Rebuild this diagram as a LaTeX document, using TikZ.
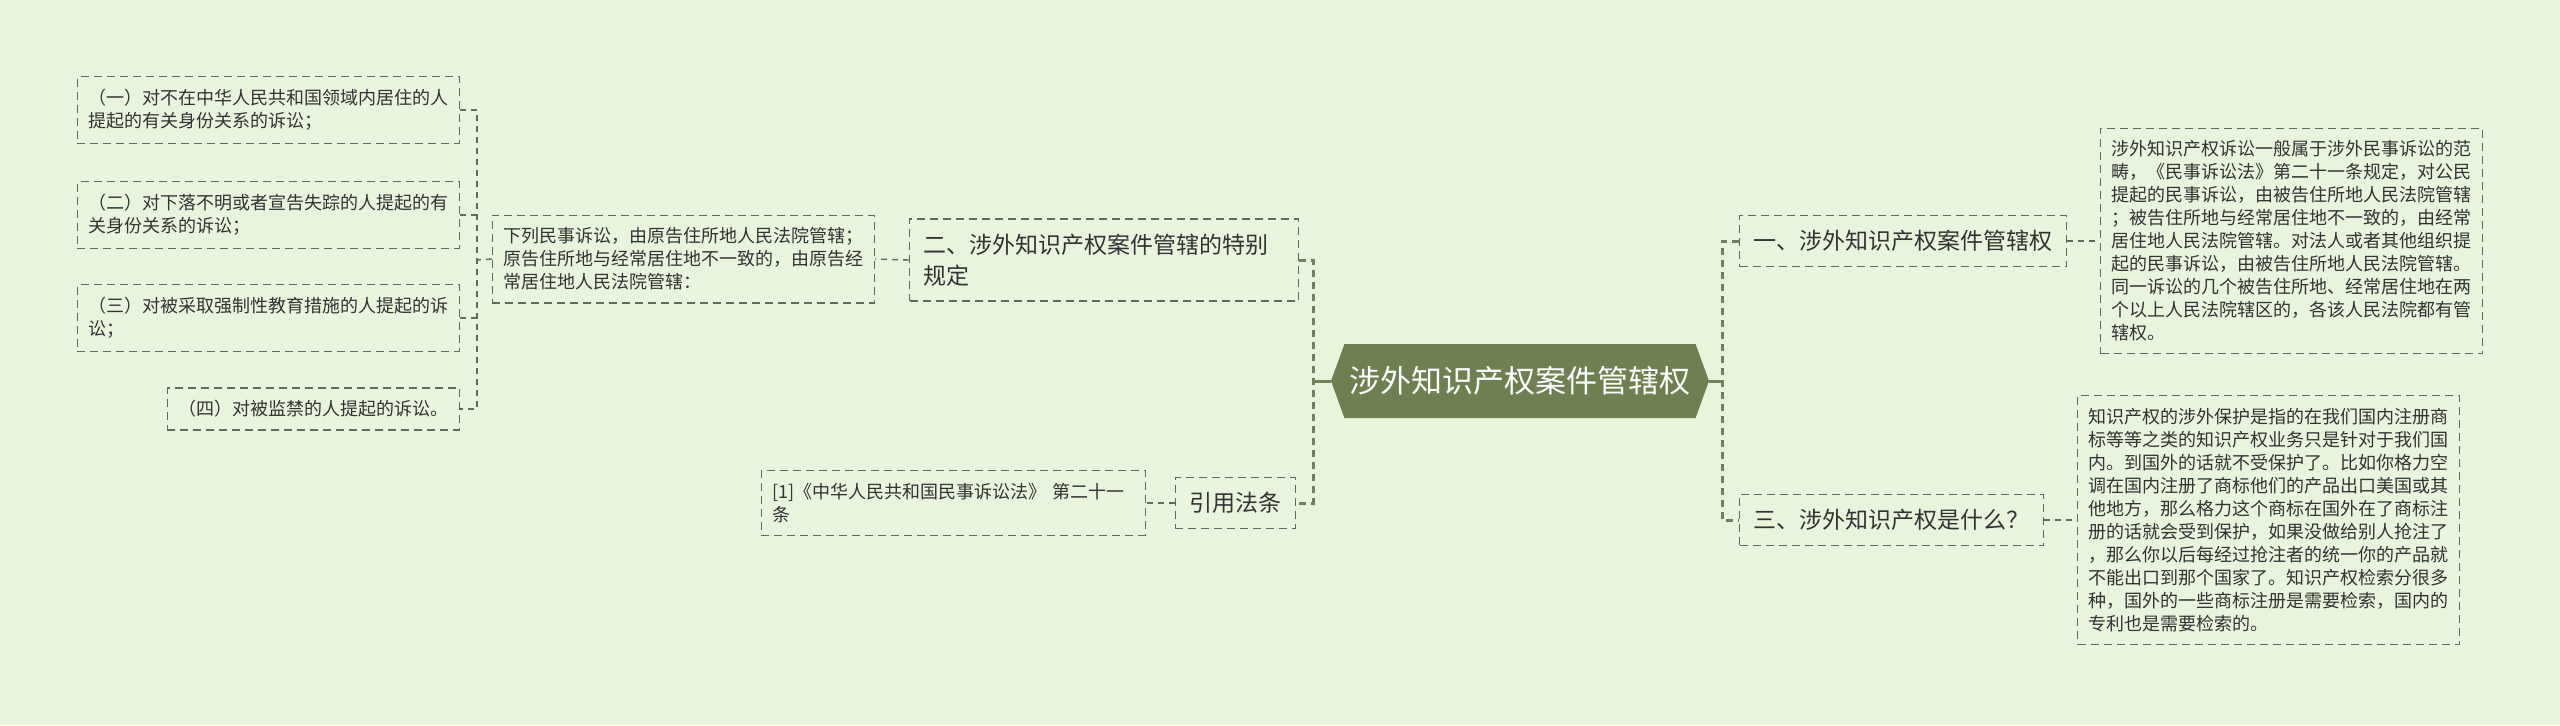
\documentclass[tikz,border=0pt]{standalone}
\usepackage{fontspec}
\setmainfont{Noto Sans CJK SC}
\usepackage{tikz}
\usetikzlibrary{positioning,shapes.symbols}
\definecolor{bgmint}{RGB}{232,245,220}
\definecolor{rootolive}{RGB}{110,127,82}
\definecolor{trunkolive}{RGB}{112,128,90}
\definecolor{edgegray}{RGB}{96,106,90}
\definecolor{inkgray}{RGB}{51,51,51}

\begin{document}
\begin{tikzpicture}[x=0.5pt, y=-0.5pt,
    root/.style={signal, signal to=east and west, signal pointer angle=140, fill=rootolive, text=white, font=\fontsize{15.5pt}{18pt}\selectfont, minimum width=189pt, minimum height=37pt, inner sep=0pt},
    topic/.style={draw=edgegray, dash pattern=on 4pt off 2.5pt, line width=0.7pt, text=inkgray, font=\fontsize{11.5pt}{15.5pt}\selectfont, inner xsep=7pt, inner ysep=7.5pt, align=left},
    leaf/.style={draw=edgegray, dash pattern=on 4pt off 2.5pt, line width=0.6pt, text=inkgray, font=\fontsize{9pt}{11.5pt}\selectfont, inner xsep=5.5pt, inner ysep=6.25pt, align=left},
    trunk/.style={draw=trunkolive, line width=1.5pt, dash pattern=on 3.5pt off 2.5pt},
    stem/.style={draw=trunkolive, line width=1.5pt},
    link/.style={draw=edgegray, line width=0.7pt, dash pattern=on 3pt off 2.5pt}
]
\fill[bgmint] (0,0) rectangle (2560,725);

% centre
\node[root] (root) at (1520,381) {涉外知识产权案件管辖权};

% right side
\node[topic, anchor=west] (b1) at (1739,241) {一、涉外知识产权案件管辖权};
\node[topic, anchor=west] (b3) at (1739,520) {三、涉外知识产权是什么？};
\node[leaf, anchor=west] (d1) at (2100,241) {涉外知识产权诉讼一般属于涉外民事诉讼的范\\畴，《民事诉讼法》第二十一条规定，对公民\\提起的民事诉讼，由被告住所地人民法院管辖\\；被告住所地与经常居住地不一致的，由经常\\居住地人民法院管辖。对法人或者其他组织提\\起的民事诉讼，由被告住所地人民法院管辖。\\同一诉讼的几个被告住所地、经常居住地在两\\个以上人民法院辖区的，各该人民法院都有管\\辖权。};
\node[leaf, anchor=west] (d3) at (2077,520) {知识产权的涉外保护是指的在我们国内注册商\\标等等之类的知识产权业务只是针对于我们国\\内。到国外的话就不受保护了。比如你格力空\\调在国内注册了商标他们的产品出口美国或其\\他地方，那么格力这个商标在国外在了商标注\\册的话就会受到保护，如果没做给别人抢注了\\，那么你以后每经过抢注者的统一你的产品就\\不能出口到那个国家了。知识产权检索分很多\\种，国外的一些商标注册是需要检索，国内的\\专利也是需要检索的。};

% left side
\node[topic, anchor=west, text width=180.5pt] (b2) at (909,260) {二、涉外知识产权案件管辖的特别\\规定};
\node[topic, anchor=east] (ref) at (1296,503) {引用法条};
\node[leaf, anchor=east, text width=181pt] (law) at (1146,503) {[1]《中华人民共和国民事诉讼法》 第二十一\\条};
\node[leaf, anchor=east] (d2) at (875,259) {下列民事诉讼，由原告住所地人民法院管辖；\\原告住所地与经常居住地不一致的，由原告经\\常居住地人民法院管辖：};
\node[leaf, anchor=east] (i1) at (460,110) {（一）对不在中华人民共和国领域内居住的人\\提起的有关身份关系的诉讼；};
\node[leaf, anchor=east] (i2) at (460,215) {（二）对下落不明或者宣告失踪的人提起的有\\关身份关系的诉讼；};
\node[leaf, anchor=east] (i3) at (460,318) {（三）对被采取强制性教育措施的人提起的诉\\讼；};
\node[leaf, anchor=east] (i4) at (460,409) {（四）对被监禁的人提起的诉讼。};

% connectors
\coordinate (lhub) at (1313,381);
\coordinate (rhub) at (1722,381);
\coordinate (ihub) at (477,260);
\draw[stem] (root.west) -- (lhub);
\draw[stem] (root.east) -- (rhub);
\draw[trunk] (b2.east) -| (lhub) |- (ref.east);
\draw[trunk] (b1.west) -| (rhub) |- (b3.west);
\draw[link] (b1.east) -- (d1.west);
\draw[link] (b3.east) -- (d3.west);
\draw[link] (b2.west) -- (d2.east);
\draw[link] (ref.west) -- (law.east);
\draw[link] (d2.west) -- (ihub);
\draw[link] (i1.east) -| (ihub) |- (i4.east);
\draw[link] (i2.east) -- (i2.east -| ihub);
\draw[link] (i3.east) -- (i3.east -| ihub);

\end{tikzpicture}
\end{document}
